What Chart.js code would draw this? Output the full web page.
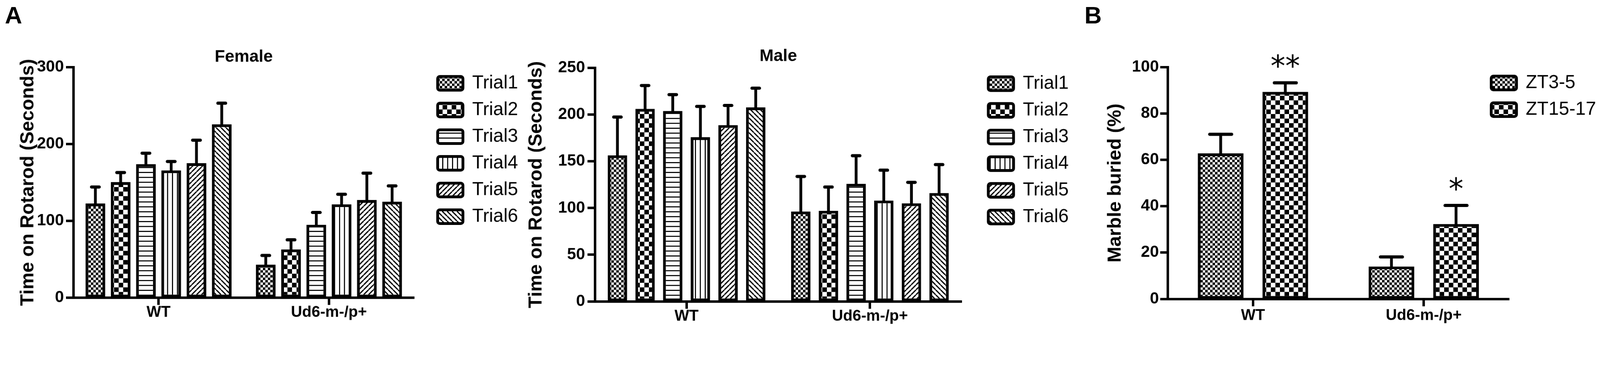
<!DOCTYPE html>
<html>
<head>
<meta charset="utf-8">
<script src="https://cdn.jsdelivr.net/npm/chart.js@4.4.1/dist/chart.umd.min.js"></script>
<style>
  html, body { margin: 0; padding: 0; background: #fff; overflow: hidden; }
  #page { position: absolute; left: 0; top: 0; width: 4559px; height: 950px; transform-origin: 0 0; background: #fff; }
  canvas { position: absolute; top: 0; }
  .panel { position: absolute; top: 9px; font: bold 68px 'Liberation Sans', Arial, sans-serif; line-height: 68px; color: #000; }
</style>
</head>
<body>
<div id="page">
  <div class="panel" style="left:14px">A</div>
  <div class="panel" style="left:3090px">B</div>
  <canvas id="femaleChart" width="1500" height="950" style="left:0"></canvas>
  <canvas id="maleChart" width="1650" height="950" style="left:1420px"></canvas>
  <canvas id="marbleChart" width="1419" height="950" style="left:3140px"></canvas>
</div>
<script>
// Values (mean and upper SEM per bar)
const groups = ['WT', 'Ud6-m-/p+'];
const trials = ['Trial1', 'Trial2', 'Trial3', 'Trial4', 'Trial5', 'Trial6'];

// A - Female rotarod
const femaleWT = [122.5, 150.4, 173.8, 165.7, 175.0, 225.7];
const femaleWTErr = [21.5, 12.4, 14.2, 11.5, 30.0, 27.5];
const femaleUd6 = [42.8, 62.7, 94.8, 121.5, 127.0, 124.9];
const femaleUd6Err = [12.0, 12.5, 16.0, 13.0, 35.0, 20.5];

// A - Male rotarod
const maleWT = [156.4, 206.2, 203.9, 175.8, 188.8, 207.8];
const maleWTErr = [41.0, 25.0, 17.5, 33.0, 21.0, 20.5];
const maleUd6 = [96.3, 97.0, 126.0, 108.0, 105.0, 116.0];
const maleUd6Err = [37.5, 25.5, 30.0, 32.5, 22.5, 30.5];

// B - Marble burying
const marbleSeries = ['ZT3-5', 'ZT15-17'];
const zt3 = [62.8, 14.0];
const zt3Err = [8.2, 4.1];
const zt15 = [89.3, 32.3];
const zt15Err = [3.9, 8.0];
const zt15Stars = ['**', '*'];

const FONT = "'Liberation Sans', Arial, sans-serif";

// the figure is laid out on a 4559x950 sheet; fit it to the real window
const pageScale = Math.min(window.innerWidth / 4559, window.innerHeight / 950);
document.getElementById('page').style.transform = 'scale(' + pageScale + ')';

// ----------------------------------------------------
// PATTERNS (black and white fills)
// ----------------------------------------------------
function makePattern(kind) {
    const c = document.createElement('canvas');
    let s = 14;
    if (kind === 'checkLarge') s = 26;
    c.width = s; c.height = s;
    const g = c.getContext('2d');
    g.fillStyle = '#fff';
    g.fillRect(0, 0, s, s);
    g.fillStyle = '#000';
    g.strokeStyle = '#000';
    if (kind === 'checkSmall' || kind === 'checkLarge') {
        const h = s / 2;
        g.fillRect(0, 0, h, h);
        g.fillRect(h, h, h, h);
    } else if (kind === 'hlines') {
        g.fillRect(0, 0, s, 3);
    } else if (kind === 'vlines') {
        g.fillRect(0, 0, 3, s);
    } else if (kind === 'diagUp') {
        g.lineWidth = 3.5;
        [-s, 0, s].forEach(o => { g.beginPath(); g.moveTo(o, s); g.lineTo(o + s, 0); g.stroke(); });
    } else if (kind === 'diagDown') {
        g.lineWidth = 3.5;
        [-s, 0, s].forEach(o => { g.beginPath(); g.moveTo(o, 0); g.lineTo(o + s, s); g.stroke(); });
    }
    return g.createPattern(c, 'repeat');
}

const TRIAL_PATTERNS = ['checkSmall', 'checkLarge', 'hlines', 'vlines', 'diagUp', 'diagDown'].map(makePattern);

// ----------------------------------------------------
// PLUGINS
// ----------------------------------------------------
// Upper error bars (+ significance stars)
const errorBars = {
    id: 'errorBars',
    afterDatasetsDraw(chart, args, opts) {
        const ctx = chart.ctx;
        const yScale = chart.scales.y;
        chart.data.datasets.forEach((ds, di) => {
            const meta = chart.getDatasetMeta(di);
            meta.data.forEach((bar, i) => {
                const top = yScale.getPixelForValue(ds.data[i] + ds.errors[i]);
                const half = bar.width * opts.capRatio / 2 - opts.cap / 2;
                ctx.save();
                ctx.strokeStyle = '#000';
                ctx.lineCap = 'round';
                ctx.lineWidth = opts.stem;
                ctx.beginPath();
                ctx.moveTo(bar.x, bar.y);
                ctx.lineTo(bar.x, top);
                ctx.stroke();
                ctx.lineWidth = opts.cap;
                ctx.beginPath();
                ctx.moveTo(bar.x - half, top);
                ctx.lineTo(bar.x + half, top);
                ctx.stroke();
                if (ds.stars && ds.stars[i]) {
                    ctx.fillStyle = '#000';
                    ctx.font = opts.starFont;
                    ctx.textAlign = 'center';
                    ctx.textBaseline = 'alphabetic';
                    const m = ctx.measureText(ds.stars[i]);
                    const cy = top - opts.starGap;
                    ctx.fillText(ds.stars[i], bar.x, cy + (m.actualBoundingBoxAscent - m.actualBoundingBoxDescent) / 2);
                }
                ctx.restore();
            });
        });
    }
};

// Moves the legend box to a fixed spot inside the canvas
const legendPlace = {
    id: 'legendPlace',
    afterLayout(chart, args, opts) {
        const lg = chart.legend;
        if (!lg || opts.left == null) return;
        lg.left = opts.left;
        lg.right = opts.left + 600;   // legend clips to its box
        lg.top = opts.top;
        lg.bottom = opts.top + 700;
    }
};

// ----------------------------------------------------
// CHART BUILDER
// ----------------------------------------------------
function trialDatasets(wt, wtErr, ud6, ud6Err, catPct, barPct) {
    return trials.map((t, i) => ({
        label: t,
        data: [wt[i], ud6[i]],
        errors: [wtErr[i], ud6Err[i]],
        backgroundColor: TRIAL_PATTERNS[i],
        borderColor: '#000',
        borderWidth: 8,
        borderSkipped: false,
        categoryPercentage: catPct,
        barPercentage: barPct
    }));
}

function buildChart(id, datasets, c) {
    return new Chart(document.getElementById(id), {
        type: 'bar',
        data: { labels: groups, datasets: datasets },
        options: {
            responsive: false,
            animation: false,
            devicePixelRatio: 1,
            layout: { padding: { left: 0, top: c.padTop, right: c.padRight, bottom: c.padBottom } },
            plugins: {
                title: c.title ? {
                    display: true,
                    text: c.title,
                    color: '#000',
                    fullSize: false,
                    font: { family: FONT, size: 48, weight: 'bold' },
                    padding: { top: c.titlePadTop, bottom: c.titlePadBottom }
                } : { display: false },
                legend: {
                    position: 'right',
                    align: 'start',
                    fullSize: false,
                    maxWidth: 60,
                    labels: {
                        color: '#000',
                        font: { family: FONT, size: 53 },
                        boxWidth: 72,
                        boxHeight: 39,
                        padding: 23,
                        useBorderRadius: true,
                        borderRadius: 6
                    }
                },
                tooltip: { enabled: false },
                legendPlace: { left: c.legendLeft, top: c.legendTop },
                errorBars: { stem: 8, cap: 9, capRatio: 0.55, starFont: "84px 'DejaVu Sans'", starGap: 62 }
            },
            scales: {
                x: {
                    offset: true,
                    grid: { display: true, drawOnChartArea: false, drawTicks: true, offset: false, tickLength: 21, tickWidth: 7, tickColor: '#000' },
                    border: { display: true, color: '#000', width: 7 },
                    ticks: {
                        color: '#000',
                        font: { family: FONT, size: 44, weight: 'bold', lineHeight: 1 },
                        padding: c.xTickPad,
                        maxRotation: 0,
                        autoSkip: false
                    },
                    afterFit: s => { s.height = 80; }
                },
                y: {
                    min: 0,
                    max: c.yMax,
                    ticks: {
                        stepSize: c.step,
                        color: '#000',
                        font: { family: FONT, size: 46, weight: 'bold' },
                        padding: c.yTickPad
                    },
                    grid: { drawOnChartArea: false, tickLength: 21, tickWidth: 7, tickColor: '#000' },
                    border: { color: '#000', width: 7 },
                    title: {
                        display: true,
                        text: c.yTitle,
                        color: '#000',
                        font: { family: FONT, size: 54, weight: 'bold' },
                        padding: { top: c.yTitlePad, bottom: 0 }
                    },
                    afterFit: s => { s.width = c.yWidth; }
                }
            }
        },
        plugins: [errorBars, legendPlace]
    });
}

// A - Female
buildChart('femaleChart', trialDatasets(femaleWT, femaleWTErr, femaleUd6, femaleUd6Err, 0.89, 0.78), {
    title: 'Female', titlePadTop: 134, titlePadBottom: 0,
    padTop: 0, padRight: 260, padBottom: 22,
    yMax: 300, step: 100, yTitle: 'Time on Rotarod (Seconds)',
    yWidth: 209, yTitlePad: 47.6, yTickPad: 6, xTickPad: 0,
    legendLeft: 1224, legendTop: 188
});

// A - Male
buildChart('maleChart', trialDatasets(maleWT, maleWTErr, maleUd6, maleUd6Err, 0.905, 0.70), {
    title: 'Male', titlePadTop: 132, titlePadBottom: 4,
    padTop: 0, padRight: 270, padBottom: 11,
    yMax: 250, step: 50, yTitle: 'Time on Rotarod (Seconds)',
    yWidth: 275, yTitlePad: 75.6, yTickPad: 7, xTickPad: 0,
    legendLeft: 1373, legendTop: 189
});

// B - Marble burying
const marbleDatasets = [
    { label: marbleSeries[0], data: zt3, errors: zt3Err, backgroundColor: TRIAL_PATTERNS[0] },
    { label: marbleSeries[1], data: zt15, errors: zt15Err, stars: zt15Stars, backgroundColor: TRIAL_PATTERNS[1] }
].map(d => Object.assign(d, { borderColor: '#000', borderWidth: 8, borderSkipped: false, categoryPercentage: 0.757, barPercentage: 0.707 }));

buildChart('marbleChart', marbleDatasets, {
    title: null,
    padTop: 191, padRight: 199, padBottom: 18,
    yMax: 100, step: 20, yTitle: 'Marble buried (%)',
    yWidth: 187, yTitlePad: 5.6, yTickPad: 4, xTickPad: 5,
    legendLeft: 1086, legendTop: 187
});
</script>
</body>
</html>
